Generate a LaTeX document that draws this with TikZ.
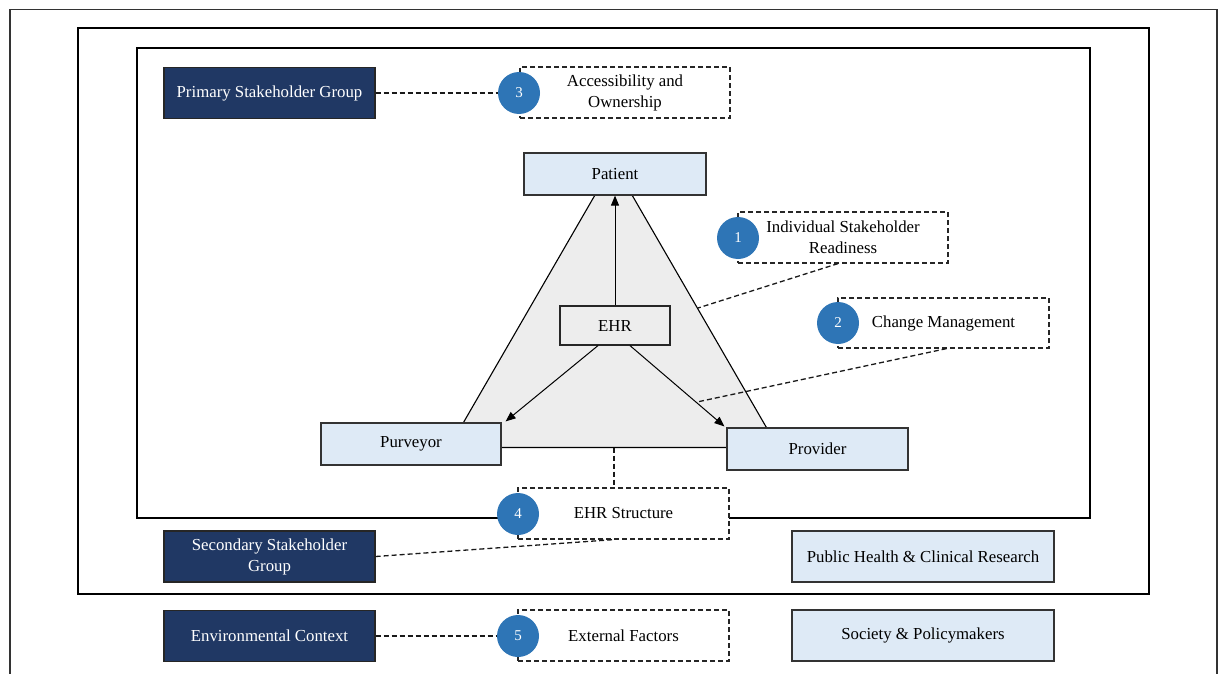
\documentclass[tikz,border=0pt]{standalone}
\usepackage{fontspec}
\setmainfont{Liberation Serif}
\usetikzlibrary{arrows.meta}
\definecolor{navy}{HTML}{203864}
\definecolor{lightblue}{HTML}{DEEAF6}
\definecolor{circblue}{HTML}{2E75B6}
\definecolor{trigray}{HTML}{EDEDED}
\begin{document}
\begin{tikzpicture}[x=1pt,y=-1pt,
  every node/.style={font=\fontsize{16.8}{21}\selectfont, align=center, inner sep=0pt},
  navybox/.style={draw=black!85, line width=1.2pt, fill=navy, text=white, minimum width=211pt, minimum height=51pt},
  bluebox/.style={draw=black!80, line width=1.2pt, fill=lightblue, text=black},
  dashbox/.style={draw=black!85, dash pattern=on 5pt off 3pt, line width=1.2pt, fill=white, minimum width=210pt, minimum height=51pt},
  numcirc/.style={circle, fill=circblue, text=white, minimum size=42pt, font=\fontsize{15}{18}\selectfont},
  conn/.style={draw=black!90, dash pattern=on 5pt off 3pt, line width=1.3pt},
  arr/.style={draw=black, -{Triangle[length=10pt,width=8pt]}, line width=1pt},
  frame/.style={draw=black, line width=2.2pt}]
\useasboundingbox (0,0) rectangle (1218,674);
\clip (0,0) rectangle (1218,674);
% frames
\draw[black!80, line width=1.3pt] (10,700) -- (10,9.5) -- (1217,9.5) -- (1217,700);
\draw[frame] (78,28) rectangle (1149,594);
\draw[frame] (137,48) rectangle (1090,518);
% triangle
\draw[fill=trigray, draw=black, line width=1.1pt] (613.5,163) -- (449,447.5) -- (778,447.5) -- cycle;
\coordinate (tribot) at (614,447.5);
\coordinate (triedge) at (698,308);
\coordinate (arrpt) at (697,402);
% main nodes
\node[navybox] (primary) at (269.5,93) {Primary Stakeholder Group};
\node[navybox] (secondary) at (269.5,556.5) {Secondary Stakeholder\\Group};
\node[navybox] (environ) at (269.5,636) {Environmental Context};
\node[bluebox, minimum width=182pt, minimum height=42pt] (patient) at (615,174) {Patient};
\node[draw=black!85, line width=1.2pt, fill=trigray, minimum width=110pt, minimum height=39pt] (ehr) at (615,325.5) {EHR};
\node[bluebox, minimum width=180pt, minimum height=42pt] (purveyor) at (411,444) {Purveyor};
\node[bluebox, minimum width=181pt, minimum height=42pt] (provider) at (817.5,449) {Provider};
\node[bluebox, minimum width=262pt, minimum height=51pt] (public) at (923,556.5) {Public Health \& Clinical Research};
\node[bluebox, minimum width=262pt, minimum height=51pt] (society) at (923,635.5) {Society \& Policymakers};
% dashed boxes
\node[dashbox] (box3) at (625,92.5) {Accessibility and\\Ownership};
\node[dashbox] (box1) at (843,237.5) {Individual Stakeholder\\Readiness};
\node[dashbox, minimum width=211pt, minimum height=50pt] (box2) at (943.5,323) {Change Management};
\node[dashbox, minimum width=211pt] (box4) at (623.5,513.5) {EHR Structure};
\node[dashbox, minimum width=211pt] (box5) at (623.5,635.5) {External Factors};
% circles
\node[numcirc] (c3) at (519,93) {3};
\node[numcirc] (c1) at (738,238) {1};
\node[numcirc] (c2) at (838,323) {2};
\node[numcirc] (c4) at (518,514) {4};
\node[numcirc] (c5) at (518,636) {5};
% arrows
\draw[arr] (ehr.north) -- (patient.south);
\draw[arr] ([xshift=-17pt]ehr.south) -- ([xshift=4pt,yshift=1pt]purveyor.north east);
\draw[arr] ([xshift=15pt]ehr.south) -- ([xshift=-2pt,yshift=1pt]provider.north west);
% dashed connectors
\draw[conn] (primary.east) -- (c3.west);
\draw[conn] (environ.east) -- (c5.west);
\draw[conn] (secondary.east) -- (tribot |- box4.south);
\draw[conn] (tribot) -- (tribot |- box4.north);
\draw[conn] ([xshift=-5pt]box1.south) -- (triedge);
\draw[conn] ([xshift=3pt]box2.south) -- (arrpt);
\end{tikzpicture}
\end{document}
